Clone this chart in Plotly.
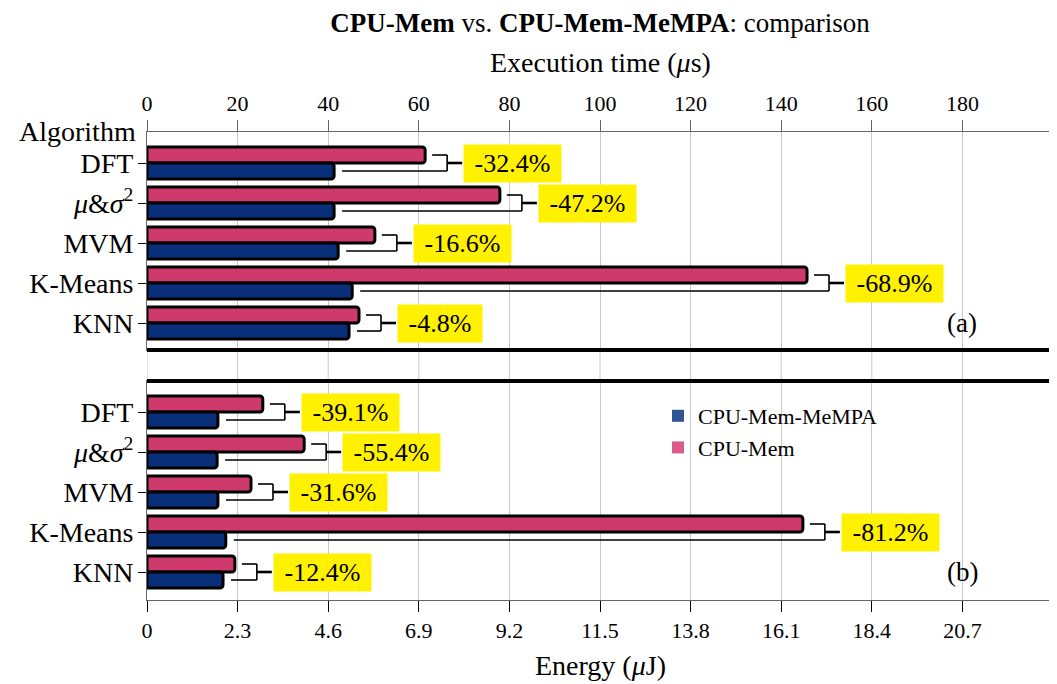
import plotly.graph_objects as go
from plotly.subplots import make_subplots

# ---------------- data ----------------
categories = ["DFT", "<i>μ</i>&amp;<i>σ</i><sup>2</sup>", "MVM", "K-Means", "KNN"]

time_cpu_mem = [61.4, 77.9, 50.3, 145.7, 46.8]        # Execution time (us), CPU-Mem
time_cpu_mem_mempa = [41.3, 41.3, 42.2, 45.3, 44.6]   # Execution time (us), CPU-Mem-MeMPA
time_pct = ["-32.4%", "-47.2%", "-16.6%", "-68.9%", "-4.8%"]

energy_cpu_mem = [2.94, 3.99, 2.64, 16.65, 2.23]       # Energy (uJ), CPU-Mem
energy_cpu_mem_mempa = [1.80, 1.78, 1.80, 2.00, 1.93]  # Energy (uJ), CPU-Mem-MeMPA
energy_pct = ["-39.1%", "-55.4%", "-31.6%", "-81.2%", "-12.4%"]

time_ticks = [0, 20, 40, 60, 80, 100, 120, 140, 160, 180]
energy_ticks = [0, 2.3, 4.6, 6.9, 9.2, 11.5, 13.8, 16.1, 18.4, 20.7]
energy_tick_text = ["0", "2.3", "4.6", "6.9", "9.2", "11.5", "13.8", "16.1", "18.4", "20.7"]

# ---------------- style ----------------
FONT = "Liberation Serif, DejaVu Serif, serif"
PINK = "#CF3A6C"
BLUE = "#0A2F7A"
PINK_LEG = "#DA5C8C"
BLUE_LEG = "#2F5596"
YELLOW = "#FFF100"
GRID = "#c8c8c8"
AXLINE = "#666666"

W, H = 1057, 684
ML, MR, MT, MB = 139, 12, 124, 92
PW = W - ML - MR
PH = H - MT - MB
ROW = 40.0          # px per category
TOP_H = 218.0
BOT_H = 219.0
PAD_TOP = 31.0 / ROW

def paper_y(py):
    return (MT + PH - py) / PH

def paper_x(px):
    return (px - ML) / PW

time_range = [0, 200]
energy_range = [0, 23]

top_dom = [(PH - TOP_H) / PH, 1.0]
bot_dom = [0.0, BOT_H / PH]
top_yrange = [-PAD_TOP + TOP_H / ROW, -PAD_TOP]
bot_yrange = [-PAD_TOP + BOT_H / ROW, -PAD_TOP]

ypos = list(range(len(categories)))
BW = 0.4
y_pink = [y - BW / 2 for y in ypos]
y_blue = [y + BW / 2 for y in ypos]

fig = make_subplots(rows=2, cols=1)

def add_bars(xa, ya, pink_vals, blue_vals):
    fig.add_trace(go.Bar(x=pink_vals, y=y_pink, orientation="h", width=BW,
                         marker=dict(color=PINK, line=dict(color="black", width=3), cornerradius=3),
                         showlegend=False, xaxis=xa, yaxis=ya, hoverinfo="skip"))
    fig.add_trace(go.Bar(x=blue_vals, y=y_blue, orientation="h", width=BW,
                         marker=dict(color=BLUE, line=dict(color="black", width=3), cornerradius=3),
                         showlegend=False, xaxis=xa, yaxis=ya, hoverinfo="skip"))

add_bars("x", "y", time_cpu_mem, time_cpu_mem_mempa)
add_bars("x2", "y2", energy_cpu_mem, energy_cpu_mem_mempa)

# legend-only entries
fig.add_trace(go.Scatter(x=[None], y=[None], mode="markers", name="CPU-Mem-MeMPA",
                         marker=dict(symbol="square", size=14, color=BLUE_LEG), xaxis="x2", yaxis="y2"))
fig.add_trace(go.Scatter(x=[None], y=[None], mode="markers", name="CPU-Mem",
                         marker=dict(symbol="square", size=14, color=PINK_LEG), xaxis="x2", yaxis="y2"))

shapes = []
annotations = []
NB = "\u00a0"

def add_brackets(xref, yref, rng, pink_vals, blue_vals, pcts):
    u = (rng[1] - rng[0]) / PW  # data units per px
    for y, p, b, t in zip(ypos, pink_vals, blue_vals, pcts):
        bx = p + 22 * u
        yp = y - BW / 2
        yb = y + BW / 2
        ln = dict(color="black", width=1.6)
        shapes.append(dict(type="line", xref=xref, yref=yref, x0=p + 7 * u, x1=bx, y0=yp, y1=yp, line=ln))
        shapes.append(dict(type="line", xref=xref, yref=yref, x0=b + 8 * u, x1=bx, y0=yb, y1=yb, line=ln))
        shapes.append(dict(type="line", xref=xref, yref=yref, x0=bx, x1=bx, y0=yp, y1=yb, line=ln))
        shapes.append(dict(type="line", xref=xref, yref=yref, x0=bx, x1=bx + 15 * u, y0=y, y1=y,
                           line=dict(color="black", width=2.6)))
        annotations.append(dict(x=bx + 16 * u, y=y, xref=xref, yref=yref, xanchor="left", yanchor="middle",
                                text=NB + t + NB, showarrow=False, bgcolor=YELLOW, borderpad=4,
                                font=dict(family=FONT, size=26, color="black")))

add_brackets("x", "y", time_range, time_cpu_mem, time_cpu_mem_mempa, time_pct)
add_brackets("x2", "y2", energy_range, energy_cpu_mem, energy_cpu_mem_mempa, energy_pct)

# gridlines across the gap between panels
for tv in time_ticks:
    shapes.append(dict(type="line", xref="x", yref="paper", x0=tv, x1=tv, y0=bot_dom[1], y1=top_dom[0],
                       line=dict(color=GRID, width=1), layer="below"))
# thick separators
for yy in (top_dom[0], bot_dom[1]):
    shapes.append(dict(type="line", xref="paper", yref="paper", x0=0, x1=1, y0=yy, y1=yy,
                       line=dict(color="black", width=4)))

# panel labels
annotations.append(dict(x=180, y=4, xref="x", yref="y", text="(a)", showarrow=False,
                        font=dict(family=FONT, size=27, color="black")))
annotations.append(dict(x=20.7, y=4, xref="x2", yref="y2", text="(b)", showarrow=False,
                        font=dict(family=FONT, size=27, color="black")))
# "Algorithm" header
annotations.append(dict(x=0, y=-PAD_TOP, xref="paper", yref="y", xanchor="right", yanchor="middle",
                        xshift=-9, yshift=1, text="Algorithm", showarrow=False,
                        font=dict(family=FONT, size=28, color="black")))
# axis titles
annotations.append(dict(x=0.5, y=paper_y(54), xref="paper", yref="paper",
                        text="Execution time (<i>μ</i>s)", showarrow=False, yanchor="middle",
                        font=dict(family=FONT, size=28, color="black")))
annotations.append(dict(x=0.5, y=paper_y(657), xref="paper", yref="paper",
                        text="Energy (<i>μ</i>J)", showarrow=False, yanchor="middle",
                        font=dict(family=FONT, size=28, color="black")))

axis_common = dict(showline=True, mirror=True, linecolor=AXLINE, linewidth=1,
                   showgrid=True, gridcolor=GRID, gridwidth=1, zeroline=False,
                   tickfont=dict(family=FONT, size=22, color="black"))
yaxis_common = {**axis_common, "showgrid": False,
                "tickfont": dict(family=FONT, size=28, color="black")}

fig.update_layout(
    width=W, height=H,
    margin=dict(l=ML, r=MR, t=MT, b=MB),
    plot_bgcolor="white", paper_bgcolor="white",
    barmode="overlay",
    title=dict(text="<b>CPU-Mem</b> vs. <b>CPU-Mem-MeMPA</b>: comparison",
               x=0.5, xref="paper", y=1 - 15 / H, yref="container", yanchor="middle",
               font=dict(family=FONT, size=27, color="black")),
    xaxis=dict(domain=[0, 1], anchor="y", side="top", range=time_range, tickvals=time_ticks,
               ticks="outside", ticklen=11, tickcolor=AXLINE, **axis_common),
    yaxis=dict(domain=top_dom, anchor="x", range=top_yrange, tickvals=ypos, ticktext=categories,
               ticks="outside", ticklen=8, tickcolor="black", ticklabelstandoff=-1, **yaxis_common),
    xaxis2=dict(domain=[0, 1], anchor="y2", side="bottom", range=energy_range, tickvals=energy_ticks,
                ticktext=energy_tick_text, ticks="outside", ticklen=11, tickcolor="black", **axis_common),
    yaxis2=dict(domain=bot_dom, anchor="x2", range=bot_yrange, tickvals=ypos, ticktext=categories,
                ticks="outside", ticklen=8, tickcolor="black", ticklabelstandoff=-1, **yaxis_common),
    legend=dict(x=paper_x(650), y=paper_y(387), xanchor="left", yanchor="top",
                bgcolor="rgba(0,0,0,0)", font=dict(family=FONT, size=22, color="black"),
                tracegroupgap=0, itemsizing="constant"),
    shapes=shapes,
    annotations=annotations,
)

fig.write_html("out.html")
